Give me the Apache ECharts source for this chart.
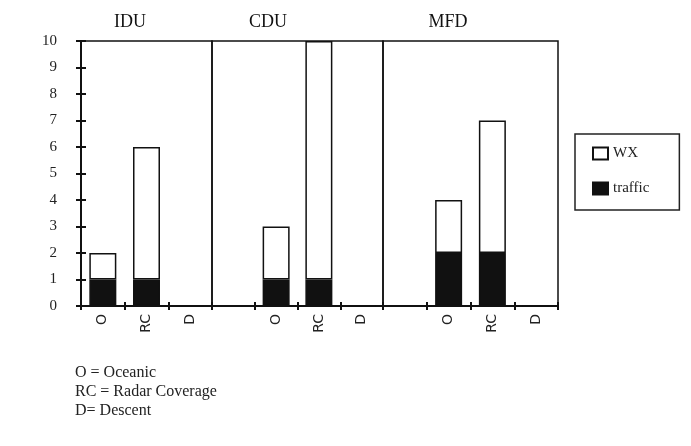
<!DOCTYPE html>
<html><head><meta charset="utf-8">
<script src="https://cdn.jsdelivr.net/npm/echarts@6/dist/echarts.min.js"></script>
<style>html,body{margin:0;padding:0;background:#fff}#c{width:691px;height:446px}</style>
</head><body><div id="c"></div>
<script>
const panels = ['IDU', 'CDU', 'MFD'];
const categories = ['O', 'RC', 'D'];
const trafficIDU = [1, 1, 0];
const wxIDU = [1, 5, 0];
const trafficCDU = [1, 1, 0];
const wxCDU = [2, 9, 0];
const trafficMFD = [2, 2, 0];
const wxMFD = [2, 5, 0];
const yTicks = [0, 1, 2, 3, 4, 5, 6, 7, 8, 9, 10];
const notes = ['O = Oceanic', 'RC = Radar Coverage', 'D= Descent'];

const traffic = [trafficIDU, trafficCDU, trafficMFD];
const wx = [wxIDU, wxCDU, wxMFD];
const serif = '"Liberation Serif", "DejaVu Serif", serif';
const gridPos = [{left: 81, width: 131}, {left: 212, width: 171}, {left: 383, width: 175}];
const titleX = [125, 263, 443];

const grids = [], xAxes = [], yAxes = [], series = [];
panels.forEach((p, i) => {
  grids.push({left: gridPos[i].left, width: gridPos[i].width, top: 41, bottom: 140,
    show: true, borderColor: '#111', borderWidth: 1.5, backgroundColor: 'transparent'});
  const cats = i === 0 ? categories.slice() : [''].concat(categories);
  const pad = v => i === 0 ? v : [null].concat(v);
  [false, true].forEach(inside => {
    xAxes.push({type: 'category', gridIndex: i, data: cats, position: 'bottom', offset: 0,
      axisLine: {show: !inside, onZero: false, lineStyle: {color: '#111', width: 2}},
      axisTick: {show: true, inside: inside, length: 4, lineStyle: {color: '#111', width: 2}},
      axisLabel: {show: !inside, rotate: 90, margin: 8, color: '#222', fontSize: 14,
        fontFamily: '"DejaVu Sans", sans-serif'},
      splitLine: {show: false}});
    yAxes.push({type: 'value', gridIndex: i, min: 0, max: 10, interval: 1, position: 'left', offset: 0,
      axisLine: {show: i === 0 && !inside, onZero: false, lineStyle: {color: '#111', width: 2}},
      axisTick: {show: i === 0, inside: inside, length: 5, lineStyle: {color: '#111', width: 2}},
      axisLabel: {show: i === 0 && !inside, margin: 24, color: '#222', fontSize: 15, fontFamily: serif,
        formatter: v => yTicks.includes(v) ? String(v) : ''},
      splitLine: {show: false}, z: inside ? 5 : 2});
  });
  const xi = i * 2, yi = i * 2;
  series.push({name: 'traffic', type: 'bar', stack: 's' + i, xAxisIndex: xi, yAxisIndex: yi,
    data: pad(traffic[i]), barWidth: 27,
    itemStyle: {color: '#111', borderColor: '#111', borderWidth: 1.5}});
  series.push({name: 'WX', type: 'bar', stack: 's' + i, xAxisIndex: xi, yAxisIndex: yi,
    data: pad(wx[i]), barWidth: 27,
    itemStyle: {color: '#fff', borderColor: '#111', borderWidth: 1.5}});
});

const titles = panels.map((p, i) => ({text: p, left: titleX[i], top: 8, textAlign: 'center',
  textStyle: {fontFamily: serif, fontSize: 18, fontWeight: 'normal', color: '#111'}}));
notes.forEach((n, k) => titles.push({text: n, left: 70, top: 360 + k * 19,
  textStyle: {fontFamily: serif, fontSize: 16, fontWeight: 'normal', color: '#222'}}));

const chart = echarts.init(document.getElementById('c'), null, {renderer: 'canvas'});
chart.setOption({
  animation: false,
  backgroundColor: '#fff',
  title: titles,
  legend: {data: ['WX', 'traffic'], orient: 'vertical', left: 575, top: 134, width: 113,
    padding: [12, 30, 14, 17], itemGap: 20, itemWidth: 15, itemHeight: 12, icon: 'rect',
    borderColor: '#222', borderWidth: 1.5, backgroundColor: '#fff',
    textStyle: {fontFamily: serif, fontSize: 15, color: '#222'}},
  grid: grids, xAxis: xAxes, yAxis: yAxes, series: series
});
</script></body></html>
